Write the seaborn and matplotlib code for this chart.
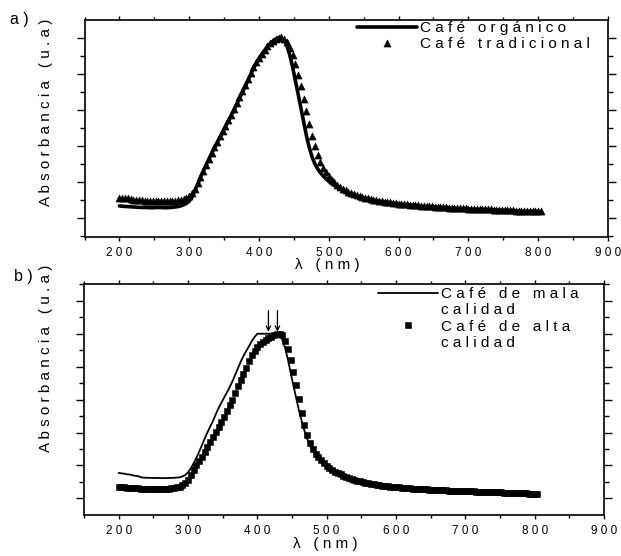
import numpy as np
import matplotlib
matplotlib.use("Agg")
import matplotlib.pyplot as plt
import seaborn as sns
from matplotlib.lines import Line2D
from matplotlib.ticker import MultipleLocator

# ---------------- data ----------------
wavelength = np.arange(200, 805, 4)  # nm, 152 points

name_organico = "Café orgánico"
name_tradicional = "Café tradicional"
name_mala = "Café de mala calidad"
name_alta = "Café de alta calidad"

cafe_organico = [
    .066, .064, .063, .062, .061, .060, .059, .058, .057, .057,
    .057, .056, .056, .057, .057, .057, .056, .056, .057, .058,
    .060, .062, .066, .072, .080, .092, .115, .150, .185, .222,
    .258, .292, .325, .357, .388, .418, .448, .477, .506, .536,
    .566, .598, .630, .662, .695, .728, .762, .795, .828, .858,
    .884, .908, .930, .950, .966, .980, .992, 1.000, 1.000, .985,
    .955, .905, .840, .765, .688, .610, .530, .455, .390, .338,
    .300, .272, .250, .232, .216, .202, .190, .179, .169, .160,
    .152, .145, .138, .132, .126, .121, .116, .112, .108, .104,
    .100, .097, .094, .091, .088, .086, .084, .082, .080, .078,
    .076, .074, .073, .071, .070, .068, .067, .066, .064, .063,
    .062, .061, .060, .059, .058, .057, .056, .055, .054, .053,
    .052, .051, .050, .050, .049, .048, .047, .047, .046, .045,
    .045, .044, .043, .043, .042, .042, .041, .040, .040, .039,
    .039, .038, .037, .037, .036, .036, .035, .035, .034, .034,
    .033, .033,
]

cafe_tradicional = [
    .110, .111, .110, .108, .105, .101, .099, .097, .096, .095,
    .095, .094, .094, .094, .093, .093, .092, .092, .093, .094,
    .095, .097, .100, .104, .110, .120, .138, .162, .192, .225,
    .260, .294, .328, .360, .392, .422, .452, .482, .512, .542,
    .573, .605, .637, .670, .703, .737, .771, .804, .836, .864,
    .888, .911, .933, .952, .968, .982, .993, 1.000, 1.002, .995,
    .975, .945, .905, .855, .795, .730, .660, .590, .520, .455,
    .398, .350, .310, .278, .252, .230, .212, .197, .184, .172,
    .162, .153, .145, .138, .131, .125, .120, .115, .111, .107,
    .103, .100, .097, .094, .091, .089, .087, .085, .083, .081,
    .079, .077, .076, .074, .073, .071, .070, .069, .067, .066,
    .065, .064, .063, .062, .061, .060, .059, .058, .057, .056,
    .055, .054, .053, .053, .052, .051, .050, .050, .049, .048,
    .048, .047, .046, .046, .045, .045, .044, .043, .043, .042,
    .042, .041, .040, .040, .039, .039, .038, .038, .037, .037,
    .036, .036,
]

cafe_mala = [
    .155, .152, .150, .146, .145, .140, .137, .135, .128, .126,
    .125, .125, .124, .124, .124, .123, .123, .123, .124, .124,
    .125, .126, .128, .133, .142, .158, .182, .212, .245, .282,
    .322, .362, .400, .436, .470, .510, .548, .580, .612, .645,
    .675, .710, .750, .790, .830, .865, .895, .925, .955, .980,
    1.000, 1.000, 1.000, 1.000, 1.000, 1.000, 1.003, 1.003, .995, .965,
    .915, .845, .765, .685, .610, .535, .470, .410, .360, .320,
    .285, .262, .243, .226, .210, .196, .183, .171, .160, .150,
    .142, .135, .129, .123, .117, .112, .107, .103, .099, .095,
    .091, .088, .085, .082, .079, .077, .075, .073, .071, .069,
    .067, .066, .064, .063, .061, .060, .059, .058, .057, .056,
    .055, .054, .053, .052, .051, .050, .049, .049, .048, .047,
    .047, .046, .045, .045, .044, .044, .043, .043, .042, .041,
    .041, .040, .040, .039, .039, .038, .037, .037, .036, .035,
    .035, .034, .033, .033, .032, .031, .030, .030, .029, .028,
    .027, .026,
]

cafe_alta = [
    .070, .068, .066, .064, .063, .062, .061, .060, .059, .058,
    .057, .057, .056, .056, .056, .056, .057, .057, .058, .060,
    .062, .066, .072, .080, .092, .110, .140, .172, .200, .225,
    .250, .283, .315, .345, .375, .405, .435, .465, .497, .530,
    .565, .600, .640, .680, .718, .755, .790, .835, .870, .898,
    .920, .938, .952, .963, .973, .983, .993, 1.000, 1.000, .990,
    .955, .905, .840, .770, .690, .605, .520, .445, .385, .335,
    .300, .272, .250, .231, .214, .199, .186, .174, .163, .153,
    .145, .137, .130, .124, .118, .113, .108, .103, .099, .095,
    .091, .088, .085, .082, .079, .077, .075, .073, .071, .069,
    .067, .066, .064, .063, .061, .060, .059, .058, .057, .056,
    .055, .054, .053, .052, .051, .050, .049, .049, .048, .047,
    .047, .046, .045, .045, .044, .044, .043, .043, .042, .041,
    .041, .040, .040, .039, .039, .038, .037, .037, .036, .035,
    .035, .034, .033, .033, .032, .031, .030, .030, .029, .028,
    .027, .026,
]

peak_arrows = [416, 429]  # nm, marked peaks in panel b

x_ticks = [200, 300, 400, 500, 600, 700, 800, 900]
panel_labels = ["a )", "b )"]
x_label = "λ (nm)"
y_label = "Absorbancia (u.a)"


def spaced(text):
    """Letter-spaced rendering like the original figure."""
    return "   ".join(" ".join(word) for word in text.split(" "))


# ---------------- style ----------------
sns.set_theme(style="ticks")
plt.rcParams["font.family"] = ["Liberation Sans", "DejaVu Sans"]
plt.rcParams.update({
    "axes.edgecolor": "black",
    "axes.linewidth": 1.2,
    "xtick.color": "black",
    "ytick.color": "black",
    "text.color": "black",
    "axes.labelcolor": "black",
})

W, H = 621, 556
fig = plt.figure(figsize=(W / 100, H / 100), dpi=100)


def rect(l, t, r, b):
    return [l / W, 1 - b / H, (r - l) / W, (b - t) / H]


ax1 = fig.add_axes(rect(84.5, 20, 608, 236.5))
ax2 = fig.add_axes(rect(84, 284, 604, 514.5))

# ---------------- panel a ----------------
sns.lineplot(x=wavelength, y=cafe_organico, ax=ax1, color="black", lw=2.6,
             label=spaced(name_organico), zorder=2)
sns.scatterplot(x=wavelength, y=cafe_tradicional, ax=ax1, color="black",
                marker="^", s=26, linewidth=0.4, edgecolor="black",
                label=spaced(name_tradicional), zorder=3)
ax1.set_ylim(-0.104, 1.098)

# ---------------- panel b ----------------
sns.scatterplot(x=wavelength, y=cafe_alta, ax=ax2, color="black",
                marker="s", s=20, linewidth=0.4, edgecolor="black",
                label=name_alta, zorder=2)
sns.lineplot(x=wavelength, y=cafe_mala, ax=ax2, color="black", lw=1.3,
             label=name_mala, zorder=3)
ax2.set_ylim(-0.098, 1.302)
for xa in peak_arrows:
    ax2.annotate("", xy=(xa, 1.012), xytext=(xa, 1.14),
                 arrowprops=dict(arrowstyle="->", color="black", lw=0.9,
                                 mutation_scale=8, shrinkA=0, shrinkB=0))

# ---------------- common axes formatting ----------------
for ax, xlab_x, ylab_y in ((ax1, 0.463, 0.573), (ax2, 0.464, 0.679)):
    ax.set_xlim(150, 900)
    ax.set_xticks(x_ticks)
    ax.set_xticklabels([spaced(str(t)) for t in x_ticks])
    ax.xaxis.set_minor_locator(MultipleLocator(50))
    ax.yaxis.set_major_locator(MultipleLocator(0.2))
    ax.yaxis.set_minor_locator(MultipleLocator(0.1))
    ax.tick_params(axis="both", which="both", direction="out", top=True,
                   right=True, width=1.0, color="black")
    ax.tick_params(axis="x", which="major", length=3, pad=4.5, labelsize=8.5)
    ax.tick_params(axis="x", which="minor", length=2)
    ax.tick_params(axis="y", which="major", length=5.5, labelleft=False)
    ax.tick_params(axis="y", which="minor", length=3.5)
    for sp in ax.spines.values():
        sp.set_visible(True)
        sp.set_linewidth(1.2)
        sp.set_color("black")
    ax.set_xlabel(spaced(x_label), fontsize=11)
    ax.set_ylabel(spaced(y_label), fontsize=11)
    ax.xaxis.set_label_coords(xlab_x, -0.098)
    ax.yaxis.set_label_coords(-0.060, ylab_y)

# ---------------- legends ----------------
h1, l1 = ax1.get_legend_handles_labels()
ax1.legend(h1, l1, loc="upper left",
           bbox_to_anchor=((357 - 84.5) / 523.5, (236.5 - 21) / 216.5),
           frameon=False, fontsize=11, handlelength=3.9, handletextpad=0.25,
           labelspacing=0.15, borderpad=0, borderaxespad=0,
           scatteryoffsets=[0.5])

h2, l2 = ax2.get_legend_handles_labels()
hd = dict(zip(l2, h2))
blank = Line2D([], [], linestyle="none")
w_m = name_mala.split(" ")
w_a = name_alta.split(" ")
ax2.legend([hd[name_mala], blank, hd[name_alta], blank],
           [spaced(" ".join(w_m[:3])), spaced(w_m[3]),
            spaced(" ".join(w_a[:3])), spaced(w_a[3])],
           loc="upper left",
           bbox_to_anchor=((378 - 84) / 520, (514.5 - 287) / 230.5),
           frameon=False, fontsize=11, handlelength=3.9, handletextpad=0.25,
           labelspacing=0.15, borderpad=0, borderaxespad=0,
           scatteryoffsets=[0.5])

# ---------------- panel letters ----------------
fig.text(10 / W, 1 - 24 / H, panel_labels[0], fontsize=11.5, va="baseline")
fig.text(14 / W, 1 - 281 / H, panel_labels[1], fontsize=11.5, va="baseline")

fig.savefig("out.png", dpi=100)
